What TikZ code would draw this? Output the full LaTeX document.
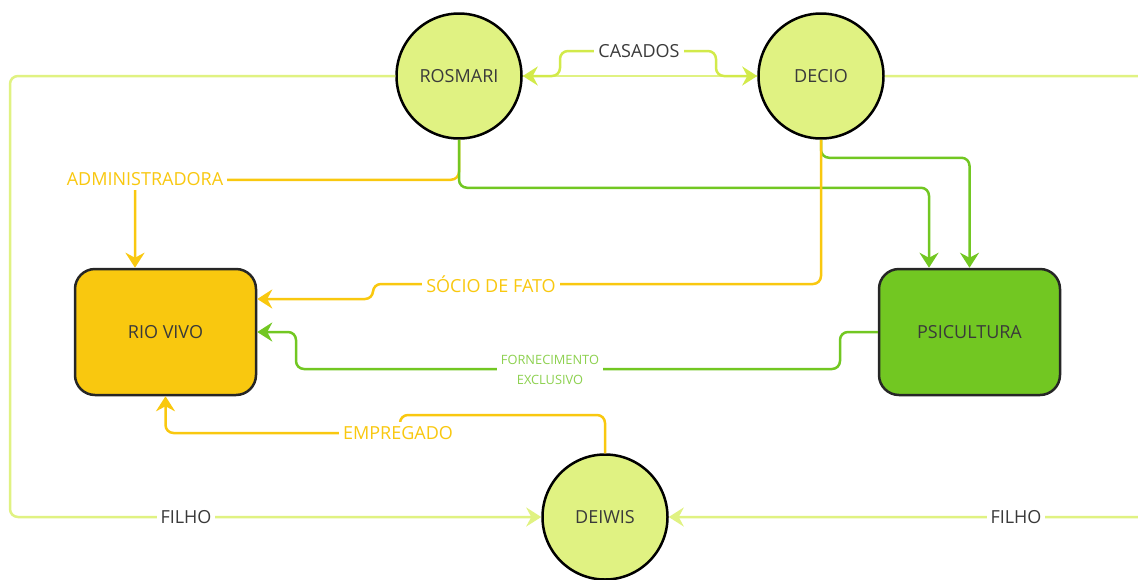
\documentclass[tikz,border=0pt]{standalone}
\usepackage{fontspec}
\setmainfont{Open Sans}
\usetikzlibrary{arrows.meta}
\definecolor{lima}{HTML}{E0F282}
\definecolor{limaforte}{HTML}{D2EA4A}
\definecolor{ouro}{HTML}{F9C80F}
\definecolor{verde}{HTML}{72C722}
\definecolor{verdeclaro}{HTML}{8DD14F}
\definecolor{escuro}{HTML}{3A3A3A}
\newcommand*{\txt}[1]{\fontsize{18}{21}\selectfont #1}

\tikzset{
  pessoa/.style={circle, draw=black, line width=2.5pt, fill=lima, minimum size=125pt, inner sep=0pt, text=escuro},
  empresa/.style={rectangle, rounded corners=20pt, draw=black!85, line width=2.5pt, minimum width=181pt, minimum height=126pt, text=escuro},
  liga/.style={line width=2.5pt, rounded corners=8pt, -{Stealth[length=15pt,width=19pt,inset=5pt]}},
  rotulo/.style={fill=white, inner sep=4pt}
}

\begin{document}
\begin{tikzpicture}[x=1pt, y=-1pt]
\useasboundingbox (0,0) rectangle (1138,579);

\node[pessoa] (ros) at (459,76) {\txt{ROSMARI}};
\node[pessoa] (dec) at (821,76) {\txt{DECIO}};
\node[pessoa] (dei) at (605,517) {\txt{DEIWIS}};
\node[empresa, fill=ouro] (rio) at (165.5,332) {\txt{RIO VIVO}};
\node[empresa, fill=verde] (psi) at (969.5,332) {\txt{PSICULTURA}};

\coordinate (rioA) at ([xshift=-30.5pt]rio.north);
\coordinate (rioB) at ([yshift=33pt]rio.east);
\coordinate (psiA) at ([xshift=-40.5pt]psi.north);

% pais e filho
\draw[line width=2.5pt, lima] (ros.east) -- (dec.west);
\draw[liga, lima] (ros.west) -- (10,76) |- (dei.west);
\draw[liga, lima] (dec.east) -- (1150,76) |- (dei.east);
\draw[liga, limaforte, {Stealth[length=15pt,width=19pt,inset=5pt]}-{Stealth[length=15pt,width=19pt,inset=5pt]}]
  (ros.east) -- (560,76) -- (560,51) -- (716,51) -- (716,76) -- (dec.west);

% empresas
\draw[liga, ouro] (ros.south) -- ++(0,40) -| (rioA);
\draw[liga, verde] (ros.south) -- ++(0,48) -| (psiA);
\draw[liga, verde] (dec.south) -- ++(0,18) -| (psi.north);
\draw[liga, ouro] (dec.south) |- (373,284) -- (373,299) -- (rioB);
\draw[liga, verde] (psi.west) -- (840,332) |- (296,369) |- (rio.east);
\draw[liga, ouro] (dei.north) |- (400,415) -- (400,433) -| (rio.south);

\node[rotulo, text=escuro] (casados) at (639,51) {\txt{CASADOS}};
\node[rotulo, text=ouro] (adm) at (145,179) {\txt{ADMINISTRADORA}};
\node[rotulo, text=ouro] (socio) at (491,284) {\txt{SÓCIO DE FATO}};
\node[rotulo, text=verdeclaro, align=center, font=\fontsize{12.8}{20}\selectfont] (forn) at (550,370) {FORNECIMENTO\\EXCLUSIVO};
\node[rotulo, text=ouro] (emp) at (398,433) {\txt{EMPREGADO}};
\node[rotulo, text=escuro] (filhoA) at (186,517) {\txt{FILHO}};
\node[rotulo, text=escuro] (filhoB) at (1016,517) {\txt{FILHO}};
\end{tikzpicture}
\end{document}
